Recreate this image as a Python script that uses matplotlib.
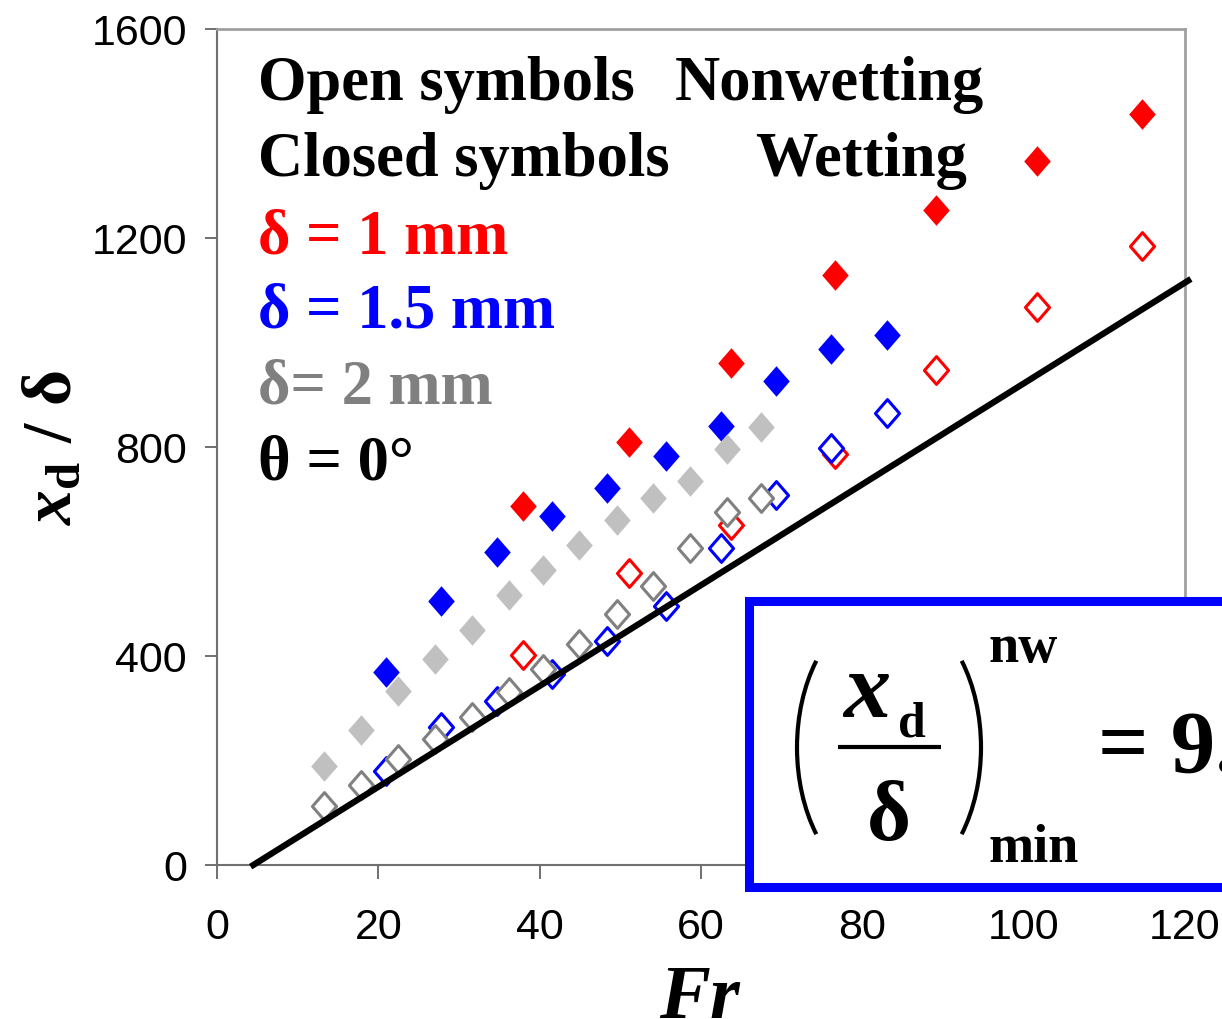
import matplotlib
matplotlib.use("Agg")
import matplotlib.pyplot as plt
from matplotlib import font_manager
from matplotlib.patches import Rectangle, Arc
from matplotlib.path import Path

# data (Fr vs x_d/delta)
fr_d1 = [37.9, 51.1, 63.7, 76.6, 89.1, 101.7, 114.7]
wet_d1 = [687, 810, 961, 1130, 1254, 1347, 1437]
nonwet_d1 = [402, 559, 650, 787, 947, 1068, 1185]

fr_d15 = [20.9, 27.8, 34.7, 41.5, 48.3, 55.6, 62.5, 69.3, 76.1, 83.0]
wet_d15 = [369, 505, 599, 668, 722, 783, 840, 926, 988, 1014]
nonwet_d15 = [180, 264, 314, 366, 429, 496, 607, 708, 798, 865]

fr_d2 = [13.3, 17.9, 22.4, 27.0, 31.6, 36.2, 40.4, 44.9, 49.6, 54.0, 58.6, 63.2, 67.4]
wet_d2 = [190, 258, 333, 394, 450, 517, 565, 612, 660, 702, 735, 796, 838]
nonwet_d2 = [113, 153, 203, 241, 283, 331, 375, 423, 480, 534, 607, 675, 702]

# minimum nonwetting line
line_slope = 9.65
line_fr0 = 4.5
line_fr = [4.5, 120.4]

x_ticks = [0, 20, 40, 60, 80, 100, 120]
y_ticks = [0, 400, 800, 1200, 1600]

W, H = 1222, 1020
names = {f.name for f in font_manager.fontManager.ttflist}
tick_font = "Liberation Sans Narrow" if "Liberation Sans Narrow" in names else "Liberation Sans"
tick_size = 37 if tick_font == "Liberation Sans Narrow" else 31
serif = "Liberation Serif"

plt.rcParams["mathtext.fontset"] = "custom"
plt.rcParams["mathtext.it"] = "Liberation Serif:bold:italic"
plt.rcParams["mathtext.rm"] = "Liberation Serif:bold"
plt.rcParams["mathtext.bf"] = "Liberation Serif:bold"

fig = plt.figure(figsize=(W / 100, H / 100), dpi=100)
ax = fig.add_axes([217 / W, 1 - 866 / H, (1185 - 217) / W, (866 - 30) / H])
ax.set_xlim(0, 120)
ax.set_ylim(0, 1600)

diamond = Path([(-0.87, 0), (0, 1), (0.87, 0), (0, -1), (-0.87, 0)], closed=True)

def filled(x, y, c):
    ax.plot(x, y, linestyle="none", marker=diamond, ms=22, mfc=c, mec=c, mew=0)

def hollow(x, y, c):
    ax.plot(x, y, linestyle="none", marker=diamond, ms=20, mfc="white", mec=c, mew=2.2)

filled(fr_d1, wet_d1, "#ff0000")
filled(fr_d15, wet_d15, "#0000ff")
filled(fr_d2, wet_d2, "#c0c0c0")
hollow(fr_d1, nonwet_d1, "#ff0000")
hollow(fr_d15, nonwet_d15, "#0000ff")
hollow(fr_d2, nonwet_d2, "#808080")

line_y = [line_slope * (f - line_fr0) for f in line_fr]
ax.plot(line_fr, line_y, color="black", lw=4.5, clip_on=False, zorder=5)

ax.set_xticks(x_ticks)
ax.set_yticks(y_ticks)
ax.tick_params(axis="y", direction="out", length=8.6, width=1.4, color="#707070", pad=13)
ax.tick_params(axis="x", direction="out", length=10, width=1.4, color="#707070", pad=20)
for lab in ax.get_xticklabels() + ax.get_yticklabels():
    lab.set_fontfamily(tick_font)
    lab.set_fontsize(tick_size)
for side in ["left", "bottom"]:
    ax.spines[side].set_color("#707070")
    ax.spines[side].set_linewidth(1.5)
for side in ["top", "right"]:
    ax.spines[side].set_color("#a0a0a0")
    ax.spines[side].set_linewidth(2)

# overlay in picture pixels for the annotations
ov = fig.add_axes([0, 0, 1, 1])
ov.set_xlim(0, W)
ov.set_ylim(H, 0)
ov.axis("off")
ov.patch.set_alpha(0)

def txt(x, y, s, size, color="black", ha="left", style="normal", **kw):
    ov.text(x, y, s, fontsize=size, color=color, ha=ha, va="baseline",
            family=serif, weight="bold", style=style, **kw)

txt(258, 100, "Open symbols", 45)
txt(675, 100, "Nonwetting", 45)
txt(258, 176, "Closed symbols", 45)
txt(755, 176, "Wetting", 45)
txt(258, 253, "δ = 1 mm", 45, "#ff0000")
txt(258, 328, "δ = 1.5 mm", 45, "#0000ff")
txt(258, 404, "δ= 2 mm", 45, "#808080")
txt(258, 480, "θ = 0°", 45)

txt(699, 1018, "Fr", 55, style="italic", ha="center")
ov.text(70, 447, r"$x_{\mathrm{d}}\ /\ \mathrm{δ}$", fontsize=50, rotation=90,
        ha="center", va="baseline", rotation_mode="anchor")

# formula box
ov.add_patch(Rectangle((748.5, 601.5), 600, 286, lw=6.5, ec="#0000ff", fc="white"))
ov.add_patch(Arc((887, 748.5), 180, 280, theta1=129.2, theta2=230.8, lw=3, color="black"))
ov.add_patch(Arc((891, 748.5), 180, 280, theta1=-50.8, theta2=50.8, lw=3, color="black"))
ov.plot([838, 941], [748, 748], color="black", lw=3, solid_capstyle="butt")
txt(843, 717, "x", 68, style="italic")
txt(898, 737, "d", 36)
txt(889, 840, "δ", 61, ha="center")
txt(988, 662, "nw", 39)
txt(988, 862, "min", 39)
txt(1098, 772, "= 9.6", 64)

fig.savefig("out.png", dpi=100)
